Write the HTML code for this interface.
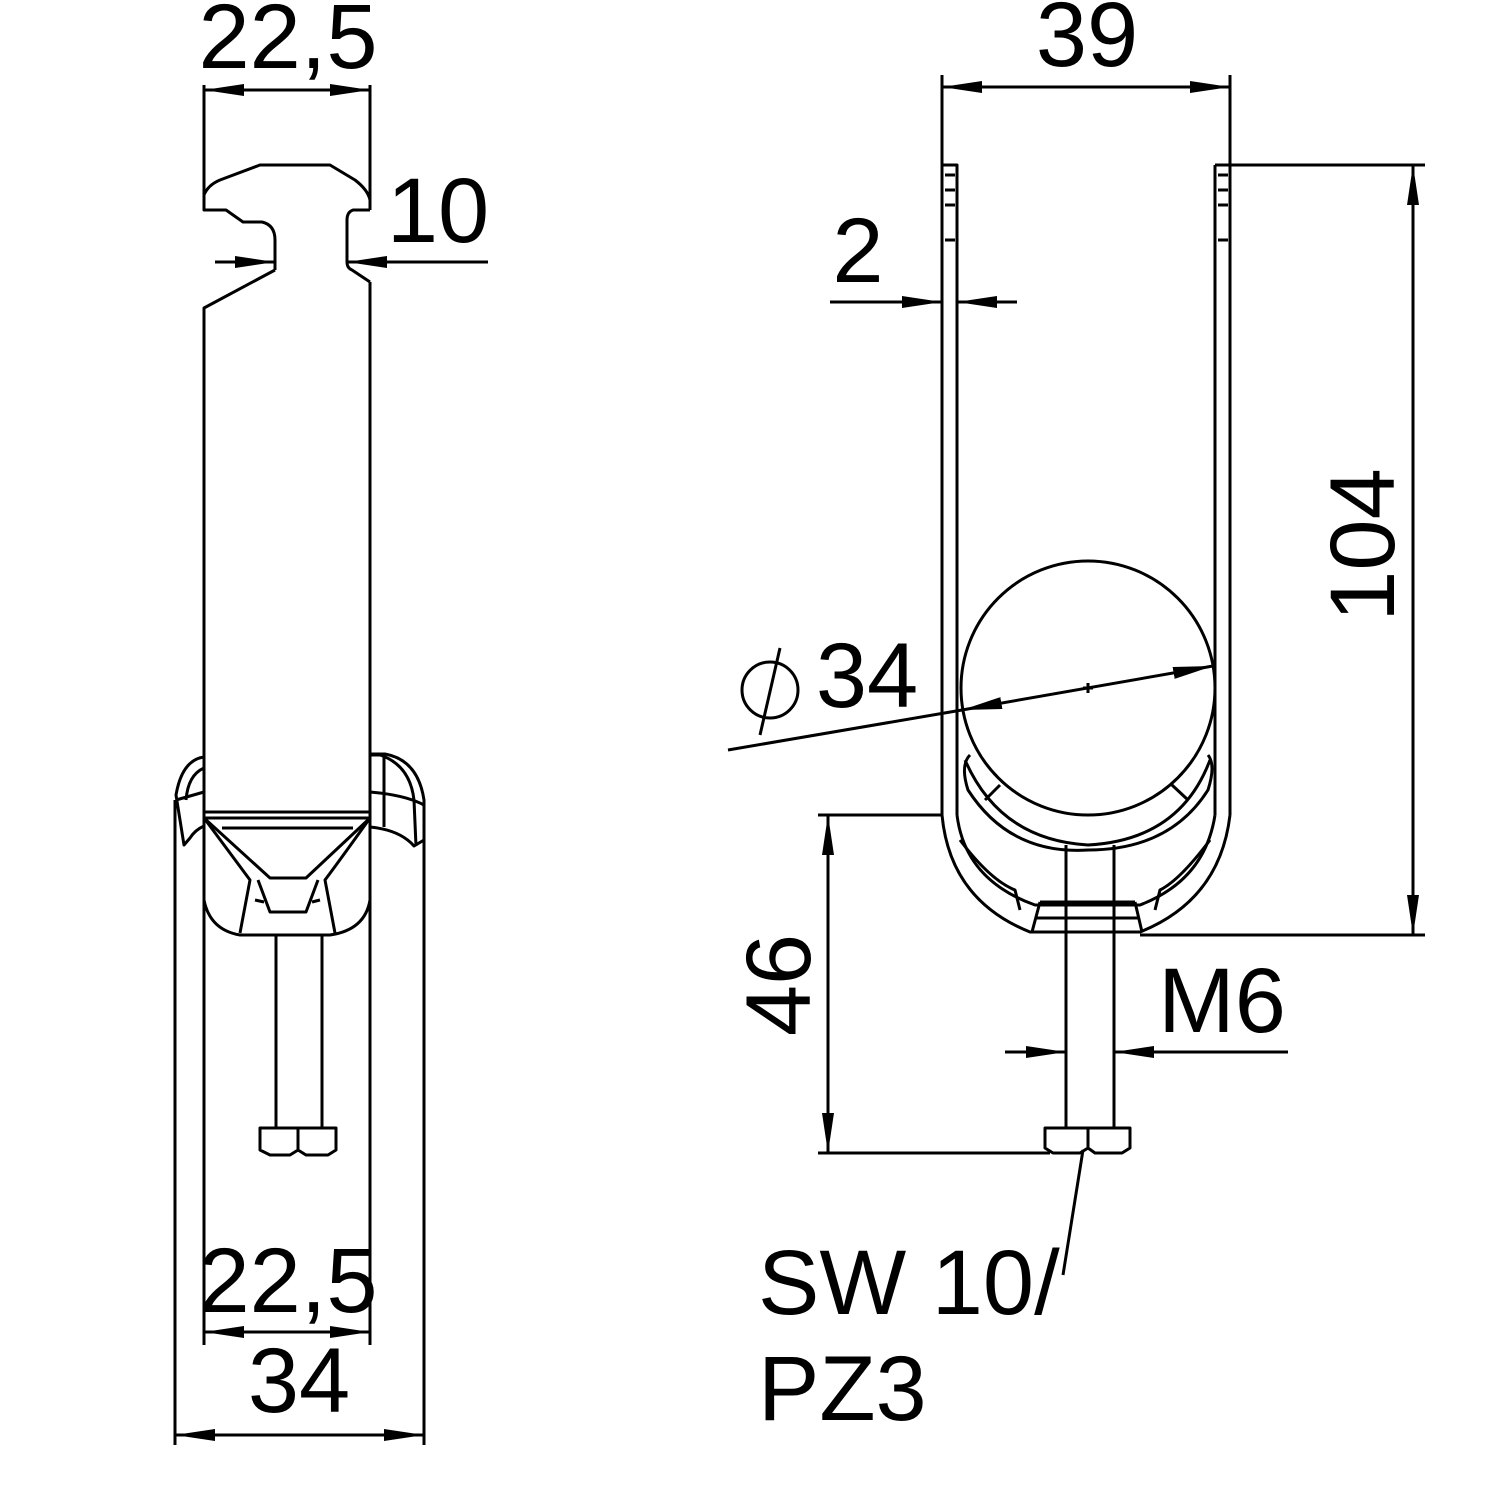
<!DOCTYPE html>
<html><head><style>html,body{margin:0;padding:0;background:#fff}svg{display:block}</style></head>
<body>
<svg width="1500" height="1500" viewBox="0 0 1500 1500" xmlns="http://www.w3.org/2000/svg">
<defs>
<marker id="a" viewBox="0 0 40 12" refX="40" refY="6" markerWidth="40" markerHeight="12" markerUnits="userSpaceOnUse" orient="auto-start-reverse"><path d="M0,0 L40,6 L0,12 Z" fill="#000"/></marker>
</defs>
<g fill="none" stroke="#000" stroke-width="3" stroke-linejoin="round">
<path d="M204,85 V195 M370,85 V210"/>
<path d="M204,195 Q208,185 220,180 L260,165 L330,165 L355,180 Q368,190 370,200"/>
<path d="M204,195 V210 H226 L243,222 H262 Q275,225 275,240 V270"/>
<path d="M370,210 H353 Q347,212 347,220 V262 Q347,268 352,270 L370,282"/>
<path d="M275,270 L204,308 V1345 M370,282 V1345"/>
<line x1="215" y1="262" x2="275" y2="262" marker-end="url(#a)"/>
<line x1="488" y1="262" x2="347" y2="262" marker-end="url(#a)"/>
<line x1="204" y1="90" x2="370" y2="90" marker-start="url(#a)" marker-end="url(#a)"/>
<line x1="204" y1="1332" x2="370" y2="1332" marker-start="url(#a)" marker-end="url(#a)"/>
<line x1="175" y1="1435" x2="424" y2="1435" marker-start="url(#a)" marker-end="url(#a)"/>
<path d="M175,800 V1445 M424,800 V1445"/>
<path d="M204,757 Q182,760 176,795 L184,845 L190,838 Q195,830 204,826"/>
<path d="M204,768 Q188,775 186,800 M176,800 L204,792"/>
<path d="M370,754 H385 Q418,760 424,800 L424,840 L414,846 Q400,830 370,827"/>
<path d="M370,755 H380 Q410,765 414,800 L416,846 M370,792 Q405,795 424,805 M384,755 V827"/>
<path d="M204,812 H370"/>
<path d="M204,818 L204,900 Q210,930 240,935 H330 Q365,930 370,900 V818 Z"/>
<path d="M204,818 L270,878 H306 L370,818 M222,828 H353"/>
<path d="M204,818 Q235,860 250,880 L240,933 M370,818 Q340,860 325,880 L335,933"/>
<path d="M258,880 L270,912 H306 L318,880 M255,900 L264,902 M312,902 L320,900"/>
<path d="M276,935 V1128 M322,935 V1128"/>
<path d="M260,1128 H336 V1150 L328,1155 H306 L298,1150 L290,1155 H270 L260,1150 Z M298,1128 V1150"/>

<path d="M942,75 V815 M1230,75 V815 M942,165 H957 V815 M1215,165 H1230 M1215,165 V815"/>
<path d="M945,175 H955 M945,190 H955 M945,205 H955 M945,240 H955 M1218,175 H1228 M1218,190 H1228 M1218,205 H1228 M1218,240 H1228"/>
<line x1="942" y1="87" x2="1230" y2="87" marker-start="url(#a)" marker-end="url(#a)"/>
<line x1="830" y1="302" x2="942" y2="302" marker-end="url(#a)"/>
<line x1="1017" y1="302" x2="957" y2="302" marker-end="url(#a)"/>
<path d="M1230,165 H1425 M1140,935 H1425"/>
<line x1="1413" y1="165" x2="1413" y2="935" marker-start="url(#a)" marker-end="url(#a)"/>
<circle cx="1088" cy="688" r="127"/>
<path d="M1083,688 H1093 M1088,683 V693"/>
<line x1="728" y1="750" x2="962" y2="710"/>
<line x1="962" y1="710" x2="1213" y2="666" marker-start="url(#a)" marker-end="url(#a)"/>
<circle cx="770" cy="690" r="28"/>
<line x1="760" y1="735" x2="780" y2="648"/>
<path d="M942,815 Q950,900 1030,932 H1140 Q1220,900 1230,815"/>
<path d="M957,815 Q965,880 1035,905 H1140 Q1205,880 1215,815"/>
<path d="M965,760 Q1000,840 1088,845 Q1180,840 1210,760 M970,755 Q960,765 968,790 Q1010,855 1088,850 Q1170,850 1208,790 Q1216,765 1208,755"/>
<path d="M985,800 L1000,785 M1188,800 L1172,785"/>
<path d="M960,840 Q990,880 1015,890 L1020,910 M1210,840 Q1180,880 1160,890 L1155,910"/>
<path d="M1040,902 H1135 M1037,918 H1138 M1040,902 L1032,932 M1135,902 L1142,932"/>
<path d="M1066,845 V1128 M1114,845 V1128"/>
<path d="M818,815 H942 M818,1153 H1050"/>
<line x1="828" y1="815" x2="828" y2="1153" marker-start="url(#a)" marker-end="url(#a)"/>
<line x1="1005" y1="1052" x2="1066" y2="1052" marker-end="url(#a)"/>
<line x1="1288" y1="1052" x2="1114" y2="1052" marker-end="url(#a)"/>
<path d="M1045,1128 H1130 V1148 L1122,1153 H1095 L1088,1148 L1080,1153 H1053 L1045,1148 Z M1088,1128 V1148"/>
<line x1="1083" y1="1150" x2="1063" y2="1275"/>
</g>
<g font-family="Liberation Sans, sans-serif" font-size="92" fill="#000">
<text x="288" y="68" text-anchor="middle">22,5</text>
<text x="438" y="242" text-anchor="middle">10</text>
<text x="288" y="1312" text-anchor="middle">22,5</text>
<text x="299" y="1412" text-anchor="middle">34</text>
<text x="1087" y="66" text-anchor="middle">39</text>
<text x="858" y="282" text-anchor="middle">2</text>
<text x="867" y="707" text-anchor="middle">34</text>
<text x="1222" y="1032" text-anchor="middle">M6</text>
<text x="758" y="1314">SW 10/</text>
<text x="758" y="1420">PZ3</text>
<text transform="translate(1394,545) rotate(-90)" text-anchor="middle">104</text>
<text transform="translate(810,985) rotate(-90)" text-anchor="middle">46</text>
</g>
</svg>
</body></html>
